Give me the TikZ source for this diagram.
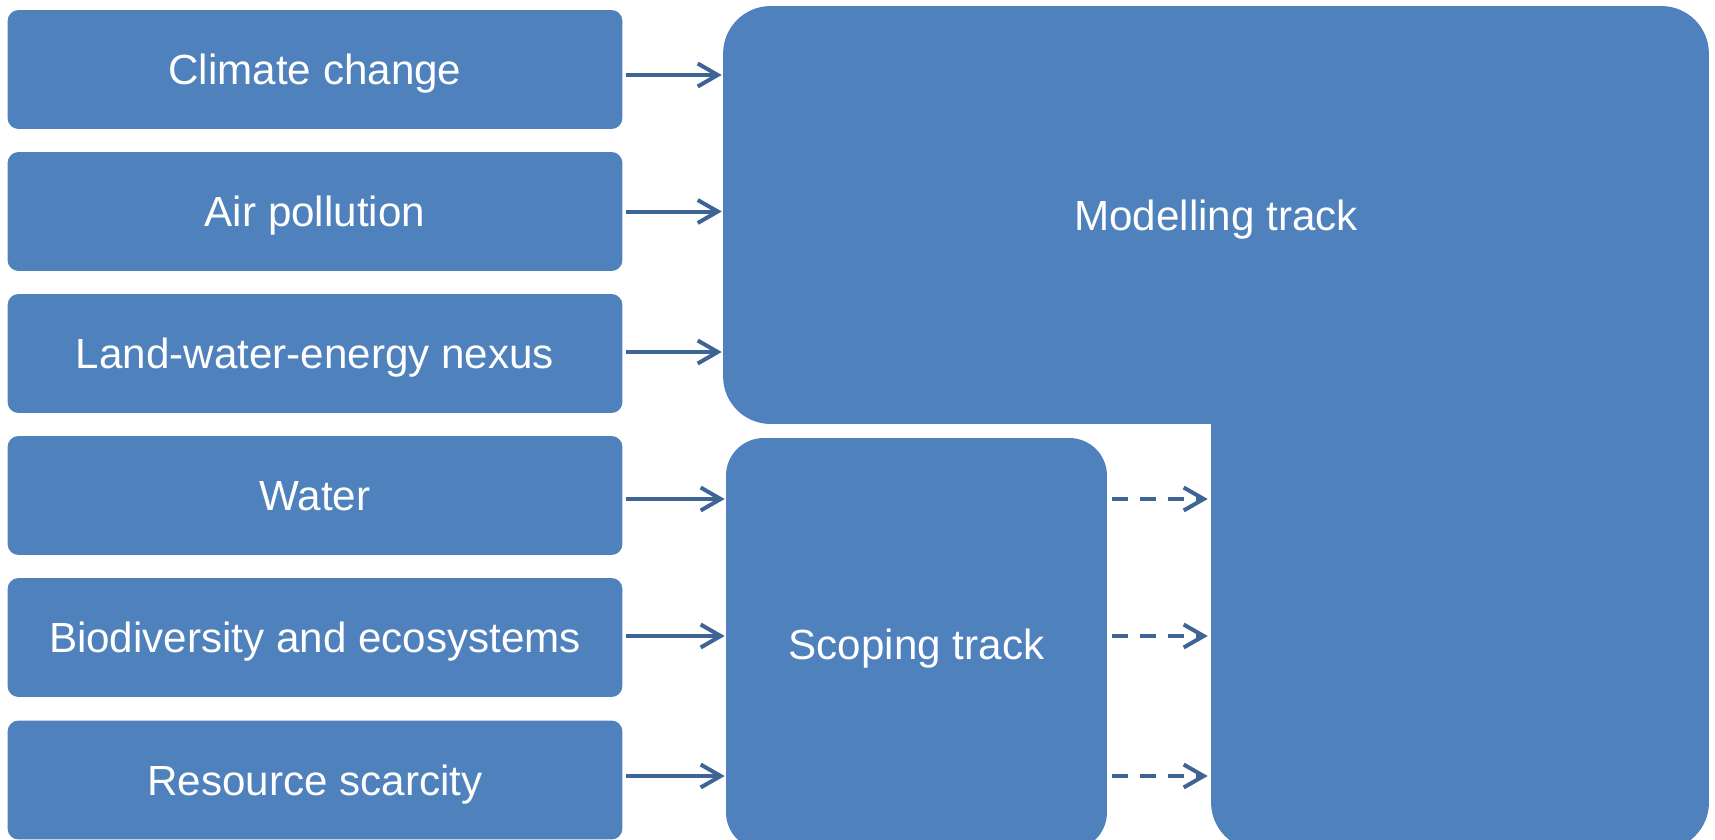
\documentclass[tikz,border=0pt]{standalone}
\usepackage{fontspec}
\setmainfont{Liberation Sans}
\usetikzlibrary{arrows.meta}
\definecolor{boxblue}{HTML}{4F81BD}
\definecolor{arrowblue}{HTML}{3E6496}

\begin{document}
\begin{tikzpicture}[x=0.02cm,y=-0.02cm,
  topic/.style={fill=boxblue,rounded corners=0.22cm,minimum width=12.3cm,minimum height=2.38cm,
    inner sep=0pt,text=white,text height=17.5pt,text depth=0pt,font=\fontsize{24}{28}\selectfont},
  track/.style={fill=boxblue,rounded corners=0.95cm,inner sep=0pt,text=white,
    text height=17.5pt,text depth=0pt,font=\fontsize{24}{28}\selectfont},
  feed/.style={arrowblue,line width=0.08cm,-{Straight Barb[length=0.4cm,width=0.46cm]},
    shorten <=0.06cm,shorten >=0.02cm},
  feedlater/.style={feed,dash pattern=on 0.32cm off 0.24cm,shorten <=0.1cm,shorten >=0.06cm}]
\clip (0,0) rectangle (1715,839);

%topics
\node[topic] (climate) at (315,69.5) {Climate change};
\node[topic] (air) at (315,211.5) {Air pollution};
\node[topic] (nexus) at (315,353.5) {Land-water-energy nexus};
\node[topic] (water) at (315,495.5) {Water};
\node[topic] (biodiv) at (315,637.5) {Biodiversity and ecosystems};
\node[topic] (scarcity) at (315,780) {Resource scarcity};

%tracks
\node[track,minimum width=9.96cm,minimum height=11cm] (stem) at (1460,575) {};
\node[track,minimum width=19.72cm,minimum height=8.36cm] (model) at (1216,215) {Modelling track};
\node[track,rounded corners=0.75cm,minimum width=7.62cm,minimum height=8.24cm] (scoping) at (916.5,644) {Scoping track};

%into the modelling track
\draw[feed] ([yshift=-0.11cm]climate.east) -- ([yshift=-0.11cm]climate.east -| model.west);
\draw[feed] (air.east) -- (air.east -| model.west);
\draw[feed] ([yshift=0.03cm]nexus.east) -- ([yshift=0.03cm]nexus.east -| model.west);
%into the scoping track
\draw[feed] ([yshift=-0.07cm]water.east) -- ([yshift=-0.07cm]water.east -| scoping.west);
\draw[feed] ([yshift=0.03cm]biodiv.east) -- ([yshift=0.03cm]biodiv.east -| scoping.west);
\draw[feed] ([yshift=0.08cm]scarcity.east) -- ([yshift=0.08cm]scarcity.east -| scoping.west);
%scoping to modelling
\draw[feedlater] ([yshift=-0.07cm]water.east -| scoping.east) -- ([yshift=-0.07cm]water.east -| stem.west);
\draw[feedlater] ([yshift=0.03cm]biodiv.east -| scoping.east) -- ([yshift=0.03cm]biodiv.east -| stem.west);
\draw[feedlater] ([yshift=0.08cm]scarcity.east -| scoping.east) -- ([yshift=0.08cm]scarcity.east -| stem.west);
\end{tikzpicture}
\end{document}
